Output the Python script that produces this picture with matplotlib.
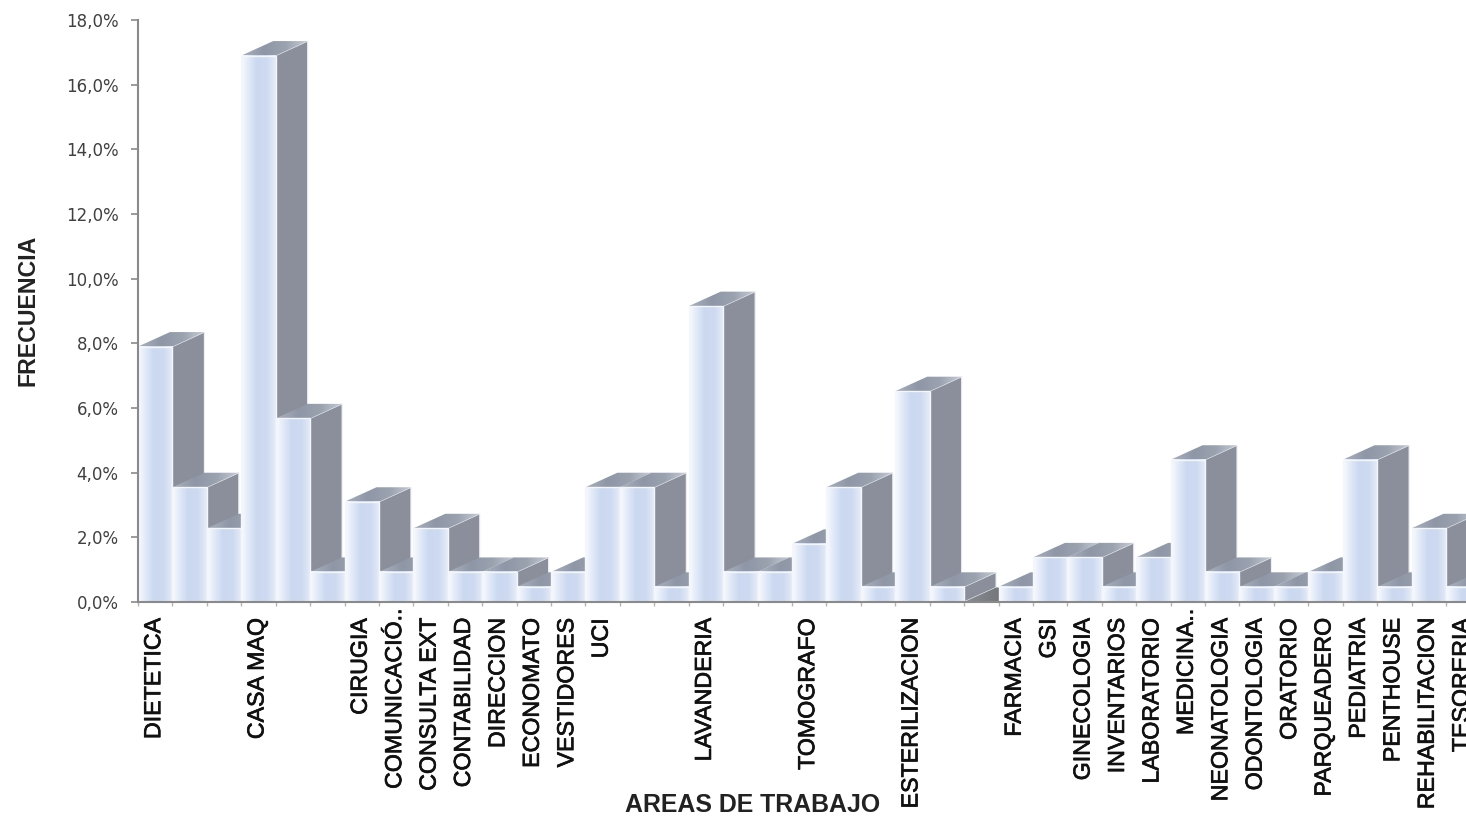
import numpy as np
import matplotlib
matplotlib.use("Agg")
import matplotlib.pyplot as plt
import matplotlib.patheffects as pe
from matplotlib.colors import LinearSegmentedColormap
from matplotlib.patches import Polygon
from matplotlib.transforms import ScaledTranslation

categories = ["DIETETICA", "", "", "CASA MAQ", "", "", "CIRUGIA", "COMUNICACIÓ..",
              "CONSULTA EXT", "CONTABILIDAD", "DIRECCION", "ECONOMATO", "VESTIDORES",
              "UCI", "", "", "LAVANDERIA", "", "", "TOMOGRAFO", "", "", "ESTERILIZACION",
              "", "", "FARMACIA", "GSI", "GINECOLOGIA", "INVENTARIOS", "LABORATORIO",
              "MEDICINA..", "NEONATOLOGIA", "ODONTOLOGIA", "ORATORIO", "PARQUEADERO",
              "PEDIATRIA", "PENTHOUSE", "REHABILITACION", "TESORERIA"]
values = [7.9, 3.55, 2.28, 16.9, 5.68, 0.93, 3.1, 0.93, 2.28, 0.93, 0.93, 0.47, 0.93,
          3.55, 3.55, 0.47, 9.15, 0.93, 0.93, 1.8, 3.55, 0.47, 6.52, 0.47, 0.0, 0.47,
          1.38, 1.38, 0.47, 1.38, 4.4, 0.93, 0.47, 0.47, 0.93, 4.4, 0.47, 2.28, 0.47]
y_ticks = [0, 2, 4, 6, 8, 10, 12, 14, 16, 18]
y_tick_labels = ["0,0%", "2,0%", "4,0%", "6,0%", "8,0%", "10,0%", "12,0%", "14,0%", "16,0%", "18,0%"]

W, H = 1466, 818
L, R, T, B = 138, 1466, 20, 602
UNIT = 34.42
fig = plt.figure(figsize=(W / 100, H / 100), dpi=100, facecolor="white")
ax = fig.add_axes([L / W, 1 - B / H, (R - L) / W, (B - T) / H])
x_limits = (-0.5, -0.5 + (R - L) / UNIT)
ax.set_xlim(*x_limits)
ax.set_ylim(0, 18)
ax.autoscale(False)

dx = 32 / UNIT               # depth offset, category units
dy = 14.5 / ((B - T) / 18)   # depth offset, value units

front_cm = LinearSegmentedColormap.from_list("f", [(0, "#f8faff"), (0.45, "#cad8f0"), (0.75, "#cedaf1"), (1, "#e6edf8")])
top_cm = LinearSegmentedColormap.from_list("t", ["#aab1bd", "#8f97a7", "#9aa2b0", "#c6cbd4"])
zero_cm = LinearSegmentedColormap.from_list("z", ["#8a8d92", "#5f6266"])
grad = np.linspace(0, 1, 64).reshape(1, -1)

xs = np.arange(len(values))
bars = ax.bar(xs, values, width=1.0, facecolor="none", edgecolor="#f4f6fa", linewidth=1.0)
for i, (bar, v) in enumerate(zip(bars, values)):
    z = 3 + i * 0.01
    left, right = i - 0.5, i + 0.5
    side = Polygon([(right, 0), (right + dx, dy), (right + dx, v + dy), (right, v)], closed=True,
                   facecolor="#8a8f9b", edgecolor="#eef0f4", linewidth=0.8, zorder=z)
    ax.add_patch(side)
    top_pts = [(left, v), (left + dx, v + dy), (right + dx, v + dy), (right, v)]
    top_clip = Polygon(top_pts, closed=True, facecolor="none", edgecolor="none", transform=ax.transData)
    ax.add_patch(top_clip)
    im = ax.imshow(grad, extent=(left, right + dx, v, v + dy), aspect="auto",
                   cmap=zero_cm if v == 0 else top_cm, zorder=z + 0.001, interpolation="bilinear")
    im.set_clip_path(top_clip)
    if v > 0:
        ax.imshow(grad, extent=(left, right, 0, v), aspect="auto", cmap=front_cm,
                  zorder=z + 0.002, interpolation="bilinear")
    bar.set_zorder(z + 0.003)

for s in ("top", "right"):
    ax.spines[s].set_visible(False)
for s in ("left", "bottom"):
    ax.spines[s].set_color("#8a8a8a")
    ax.spines[s].set_linewidth(1.5)
    ax.spines[s].set_zorder(10)

ax.set_yticks(y_ticks)
ax.set_yticklabels(y_tick_labels, fontsize=12, color="#404040", family="DejaVu Sans")
ax.tick_params(axis="y", length=5, width=1.2, color="#8a8a8a", pad=9)

ax.set_xticks(xs)
ax.set_xticklabels(categories, rotation=90, fontsize=16.7, family="Liberation Sans",
                   color="#111111", ha="center", va="top")
ax.tick_params(axis="x", which="major", length=0, pad=12)
ax.set_xticks(np.arange(-0.5, len(values), 1), minor=True)
ax.tick_params(axis="x", which="minor", length=3, width=1, color="#b5b5b5")
ax.set_xlim(*x_limits)

for lab in ax.get_xticklabels():
    lab.set_path_effects([pe.withStroke(linewidth=0.5, foreground="#111111")])
    shift_y = 9 / 100 if lab.get_text().endswith("..") else 0
    lab.set_transform(lab.get_transform() + ScaledTranslation(-1.5 / 100, shift_y, fig.dpi_scale_trans))

ax.set_xlabel("AREAS DE TRABAJO", fontsize=17.9, fontweight="bold", family="Liberation Sans", color="#222222")
ax.xaxis.set_label_coords((753 - L) / (R - L), (B - 805) / (B - T))
ax.xaxis.label.set_va("center")
ax.set_ylabel("FRECUENCIA", fontsize=16.7, fontweight="bold", family="Liberation Sans", color="#222222")
ax.yaxis.set_label_coords((28 - L) / (R - L), (B - 310) / (B - T))
ax.yaxis.label.set_va("center")

fig.savefig("out.png", dpi=100)
